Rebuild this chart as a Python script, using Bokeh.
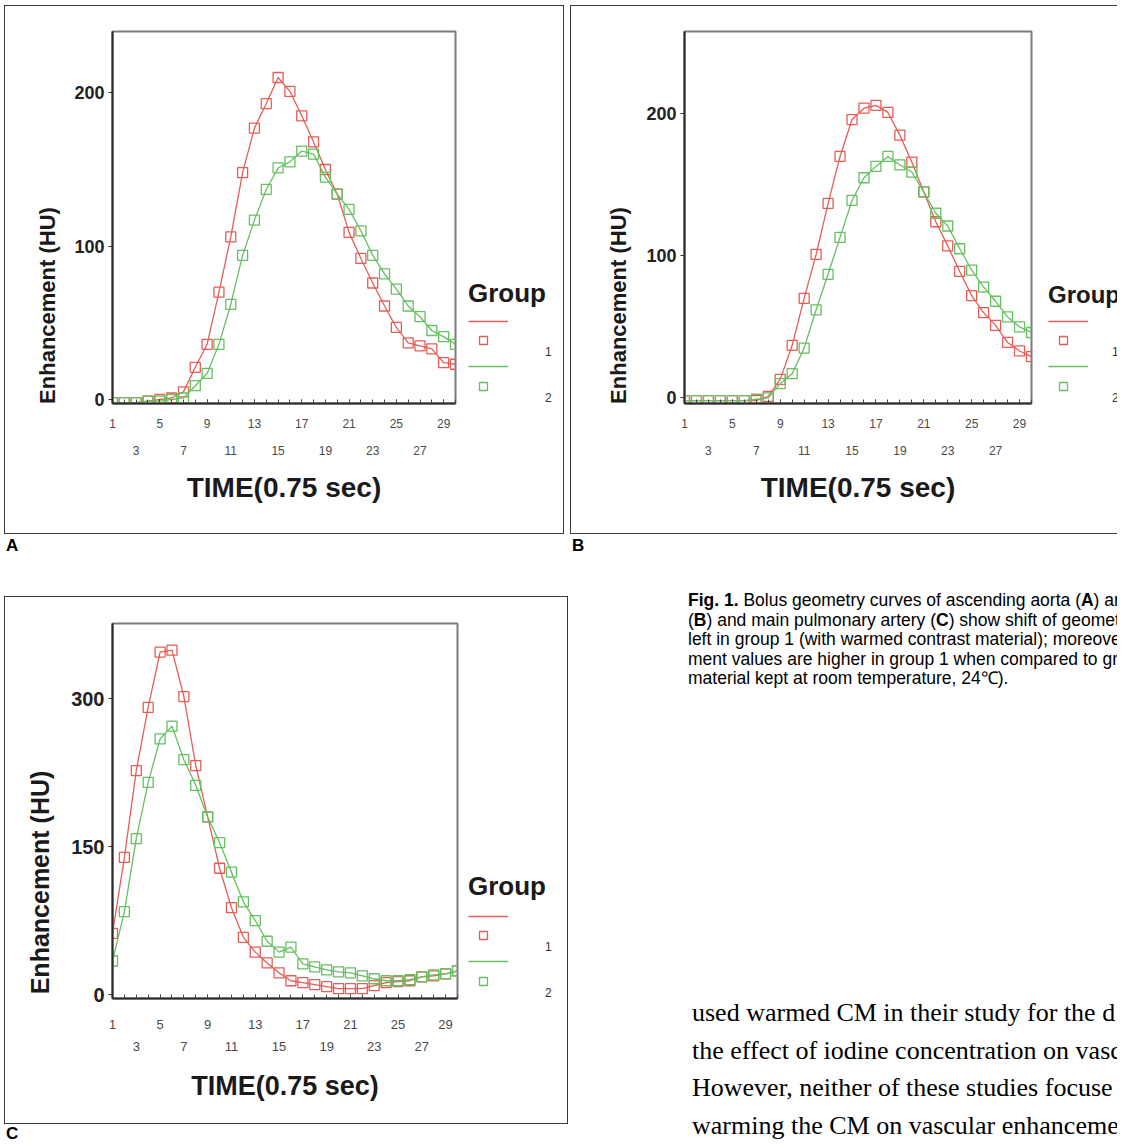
from bokeh.plotting import figure
from bokeh.models import (FixedTicker, LinearAxis, Range1d, Legend, LegendItem, Div,
                          Spacer, Label)
from bokeh.layouts import row, column
from bokeh.core.properties import value
from bokeh.embed import file_html
from bokeh.resources import INLINE
import math

# ---------------- data ----------------
TIME = list(range(1, 31))
X_LABELS_ROW1 = [1, 5, 9, 13, 17, 21, 25, 29]
X_LABELS_ROW2 = [3, 7, 11, 15, 19, 23, 27]

A_GROUP1 = [-2, -2, -2, -1, 0, 1, 5, 21, 36, 70, 106, 148, 177, 193, 210,
            201, 185, 168, 150, 134, 109, 92, 76, 61, 47, 37, 35, 33, 24, 23]
A_GROUP2 = [-2, -2, -2, -1, -1, 0, 1, 9, 17, 36, 62, 94, 117, 137, 151,
            155, 162, 160, 145, 134, 124, 110, 94, 82, 72, 61, 54, 45, 41, 36]
B_GROUP1 = [-2, -2, -2, -2, -2, -2, -2, 1, 13, 37, 70, 101, 137, 170, 196,
            204, 206, 201, 185, 166, 145, 124, 107, 89, 72, 60, 51, 39, 33, 29]
B_GROUP2 = [-2, -2, -2, -2, -2, -2, -1, 0, 10, 17, 35, 62, 87, 113, 139,
            155, 163, 170, 164, 159, 145, 130, 121, 105, 90, 78, 68, 57, 50, 46]
C_GROUP1 = [62, 139, 227, 291, 347, 349, 302, 232, 180, 128, 88, 58, 43, 32, 22,
            14, 12, 10, 8, 6, 6, 6, 9, 12, 13, 14, 18, 19, 21, 24]
C_GROUP2 = [34, 84, 158, 215, 259, 272, 238, 212, 180, 154, 124, 94, 75, 54, 43,
            48, 31, 28, 25, 23, 22, 19, 16, 14, 14, 15, 18, 20, 21, 24]

A_YTICKS = [0, 100, 200]
B_YTICKS = [0, 100, 200]
C_YTICKS = [0, 150, 300]

GROUP_LABELS = ["1", "2"]
LEGEND_TITLE = "Group"
X_TITLE = "TIME(0.75 sec)"
Y_TITLE = "Enhancement (HU)"
PANEL_LETTERS = ["A", "B", "C"]

CAPTION_LINES = [
    "<b>Fig. 1.</b> Bolus geometry curves of ascending aorta (<b>A</b>) an",
    "(<b>B</b>) and main pulmonary artery (<b>C</b>) show shift of geometr",
    "left in group 1 (with warmed contrast material); moreover",
    "ment values are higher in group 1 when compared to gro",
    "material kept at room temperature, 24\u2103).",
]
BODY_LINES = [
    "used warmed CM in their study for the d",
    "the effect of iodine concentration on vasc",
    "However, neither of these studies focuse",
    "warming the CM on vascular enhanceme",
]

SANS = "Liberation Sans"
RED = "#e65d58"
GREEN = "#66bf61"
OUTLINE_CSS = {"outline": "1px solid #3a3a3a", "outline-offset": "-1px"}
OPEN_RIGHT_CSS = {"box-shadow": "inset 1px 0 0 #3a3a3a, inset 0 1px 0 #3a3a3a, "
                                "inset 0 -1px 0 #3a3a3a"}


def strip_fig(w, h, frame_h):
    # frames of plots in one row are aligned, so this strip's frame has the same
    # vertical extent as the main plot's frame; its ranges are in frame pixels
    f = figure(width=w, height=h, x_range=Range1d(0, w), y_range=Range1d(0, frame_h),
               output_backend="svg", toolbar_location=None,
               x_axis_location=None, y_axis_location=None, min_border=0,
               outline_line_color=None, background_fill_color=None,
               border_fill_color=None)
    f.grid.visible = False
    return f


def panel(cfg, g1, g2, yticks):
    H = cfg["H"]
    frame_h = H - cfg["T"] - cfg["B"]
    # ---- y title strip ----
    fy = strip_fig(cfg["wy"], H, frame_h)
    fy.add_layout(Label(x=cfg["ylab"][0], y=cfg["ylab"][1], text=Y_TITLE,
                        angle=math.pi / 2, text_align="center", text_baseline="middle",
                        text_font=SANS, text_font_style="bold",
                        text_font_size=cfg["ylfs"], text_color="#1a1a1a"))

    # ---- main plot ----
    p = figure(width=cfg["wm"], height=H, x_range=Range1d(1, 30),
               y_range=Range1d(*cfg["yr"]),
               output_backend="svg", toolbar_location=None,
               min_border_left=cfg["L"], min_border_right=2,
               min_border_top=cfg["T"], min_border_bottom=cfg["B"],
               background_fill_color="white", border_fill_color=None)
    p.outline_line_color = "#7d7d7d"
    p.outline_line_width = 2
    p.grid.visible = False

    yax = p.yaxis[0]
    yax.ticker = FixedTicker(ticks=yticks)
    yax.major_tick_out = 4
    yax.major_tick_in = 0
    yax.minor_tick_line_color = None
    yax.axis_line_color = "#2a2a2a"
    yax.axis_line_width = 2
    yax.major_tick_line_color = "#333333"
    yax.major_label_standoff = 4
    yax.major_label_text_font = SANS
    yax.major_label_text_font_style = "bold"
    yax.major_label_text_font_size = cfg["yfs"]
    yax.major_label_text_color = "#222222"

    xax = p.xaxis[0]
    xax.ticker = FixedTicker(ticks=X_LABELS_ROW1, minor_ticks=TIME)
    xax.major_tick_in = 4
    xax.major_tick_out = 0
    xax.minor_tick_in = 4
    xax.minor_tick_out = 0
    xax.axis_line_color = "#2a2a2a"
    xax.axis_line_width = 2
    xax.major_tick_line_color = "#444444"
    xax.minor_tick_line_color = "#444444"
    xax.major_label_standoff = cfg["s1"]
    xax.major_label_text_font = SANS
    xax.major_label_text_font_size = cfg["xfs"]
    xax.major_label_text_color = "#4a4a4a"

    xax2 = LinearAxis(ticker=FixedTicker(ticks=X_LABELS_ROW2),
                      axis_line_color=None, major_tick_line_color=None,
                      minor_tick_line_color=None, major_tick_in=0, major_tick_out=0,
                      major_label_standoff=cfg["s2"], major_label_text_font=SANS,
                      major_label_text_font_size=cfg["xfs"], major_label_text_color="#4a4a4a",
                      axis_label=X_TITLE, axis_label_standoff=cfg["s3"],
                      axis_label_text_font=SANS, axis_label_text_font_style="bold",
                      axis_label_text_font_size=cfg["tfs"], axis_label_text_color="#1a1a1a")
    p.add_layout(xax2, "below")

    line_style = dict(line_width=1.3)
    mark_style = dict(marker="square", size=10, line_width=1.3, fill_color=None)
    p.line(TIME, g1, line_color=RED, **line_style)
    p.scatter(TIME, g1, line_color=RED, **mark_style)
    p.line(TIME, g2, line_color=GREEN, **line_style)
    p.scatter(TIME, g2, line_color=GREEN, **mark_style)

    # ---- legend strip: hidden copies of the series provide the legend keys ----
    fl = strip_fig(cfg["wl"], H, frame_h)
    k1 = fl.line(TIME, g1, line_color=RED, visible=False, **line_style)
    k2 = fl.line(TIME, g2, line_color=GREEN, visible=False, **line_style)
    q1 = fl.scatter(TIME, g1, line_color=RED, visible=False, **mark_style)
    q2 = fl.scatter(TIME, g2, line_color=GREEN, visible=False, **mark_style)
    x0 = cfg["lgx"]
    common = dict(padding=0, margin=0, border_line_color=None, background_fill_alpha=0,
                  label_text_font=SANS, label_text_font_size="12px",
                  label_text_color="#333333", label_width=0)
    leg_lines = Legend(items=[LegendItem(label=value(" "), renderers=[k1]),
                              LegendItem(label=value(" "), renderers=[k2])],
                       location=(x0, 27), glyph_width=40, glyph_height=20,
                       label_height=20, spacing=25, label_standoff=0,
                       title=LEGEND_TITLE, title_text_font=SANS,
                       title_text_font_style="bold", title_text_font_size=cfg["gfs"],
                       title_text_color="#1a1a1a", title_standoff=cfg["tstand"], **common)
    leg_marks = Legend(items=[LegendItem(label=value(" "), renderers=[q1]),
                              LegendItem(label=value(" "), renderers=[q2])],
                       location=(x0, 7), glyph_width=30, glyph_height=20,
                       label_height=20, spacing=26, label_standoff=0, **common)
    leg_text = Legend(items=[LegendItem(label=value(GROUP_LABELS[0]), renderers=[]),
                             LegendItem(label=value(GROUP_LABELS[1]), renderers=[])],
                      location=(cfg["nx"], -5), glyph_width=0, glyph_height=20,
                      label_height=20, spacing=26, label_standoff=0, **common)
    for lg in (leg_lines, leg_marks, leg_text):
        fl.add_layout(lg)

    return row(fy, p, fl, styles=cfg["css"])


cfgA = dict(H=529, wy=66, wm=387, wl=107, L=42, T=26, B=131, yr=(-2.6, 240),
            yfs="18px", xfs="12px", tfs="28px", s1=15, s2=15, s3=14,
            ylab=(43, 98), ylfs="22px", lgx=11, nx=88, gfs="26px", tstand=2,
            css=OUTLINE_CSS)
cfgB = dict(H=529, wy=70, wm=393, wl=84, L=44, T=26, B=131, yr=(-4, 258),
            yfs="18px", xfs="12px", tfs="28px", s1=15, s2=15, s3=14,
            ylab=(48, 98), ylfs="22px", lgx=15, nx=79, gfs="24px", tstand=2,
            css=OPEN_RIGHT_CSS)
cfgC = dict(H=528, wy=62, wm=393, wl=109, L=46, T=27, B=126, yr=(-4, 376),
            yfs="20px", xfs="13px", tfs="27px", s1=21, s2=10, s3=17,
            ylab=(35, 116), ylfs="25px", lgx=9, nx=86, gfs="26px", tstand=4,
            css=OUTLINE_CSS)

panelA = panel(cfgA, A_GROUP1, A_GROUP2, A_YTICKS)
panelB = panel(cfgB, B_GROUP1, B_GROUP2, B_YTICKS)
panelC = panel(cfgC, C_GROUP1, C_GROUP2, C_YTICKS)

LETTER_CSS = ("position:absolute;font-family:'Liberation Sans',Arial,sans-serif;"
              "font-weight:bold;font-size:17px;line-height:17px;color:#000;")
letters_ab = Div(width=1117, height=56, margin=0, text=(
    '<div style="position:relative;width:1117px;height:56px;overflow:hidden;">'
    f'<div style="{LETTER_CSS}left:6px;top:3px;">{PANEL_LETTERS[0]}</div>'
    f'<div style="{LETTER_CSS}left:572px;top:3px;">{PANEL_LETTERS[1]}</div>'
    '</div>'))
letter_c = Div(width=564, height=16, margin=0, text=(
    '<div style="position:relative;width:564px;height:16px;overflow:hidden;">'
    f'<div style="{LETTER_CSS}left:2px;top:1px;">{PANEL_LETTERS[2]}</div>'
    '</div>'))

caption_html = "<br>".join(CAPTION_LINES)
body_html = "<br>".join(BODY_LINES)
text_div = Div(width=549, height=550, margin=0, text=(
    '<div style="position:relative;width:549px;height:550px;overflow:hidden;color:#000;">'
    '<div style="position:absolute;left:120px;top:1px;white-space:nowrap;'
    "font-family:'Liberation Sans',Arial,sans-serif;font-size:17.5px;line-height:19.6px;\">"
    + caption_html +
    '</div>'
    '<div style="position:absolute;left:124px;top:404px;white-space:nowrap;'
    "font-family:'Liberation Serif','Times New Roman',serif;font-size:26px;line-height:37.7px;\">"
    + body_html +
    '</div></div>'))

top_row = row(Spacer(width=4, height=529), panelA, Spacer(width=6, height=529), panelB)
bottom_row = row(Spacer(width=4, height=550),
                 column(Spacer(width=564, height=6), panelC, letter_c),
                 text_div)
layout = column(Spacer(width=1117, height=5), top_row, letters_ab, bottom_row)

open("out.html", "w").write(file_html(layout, INLINE))
